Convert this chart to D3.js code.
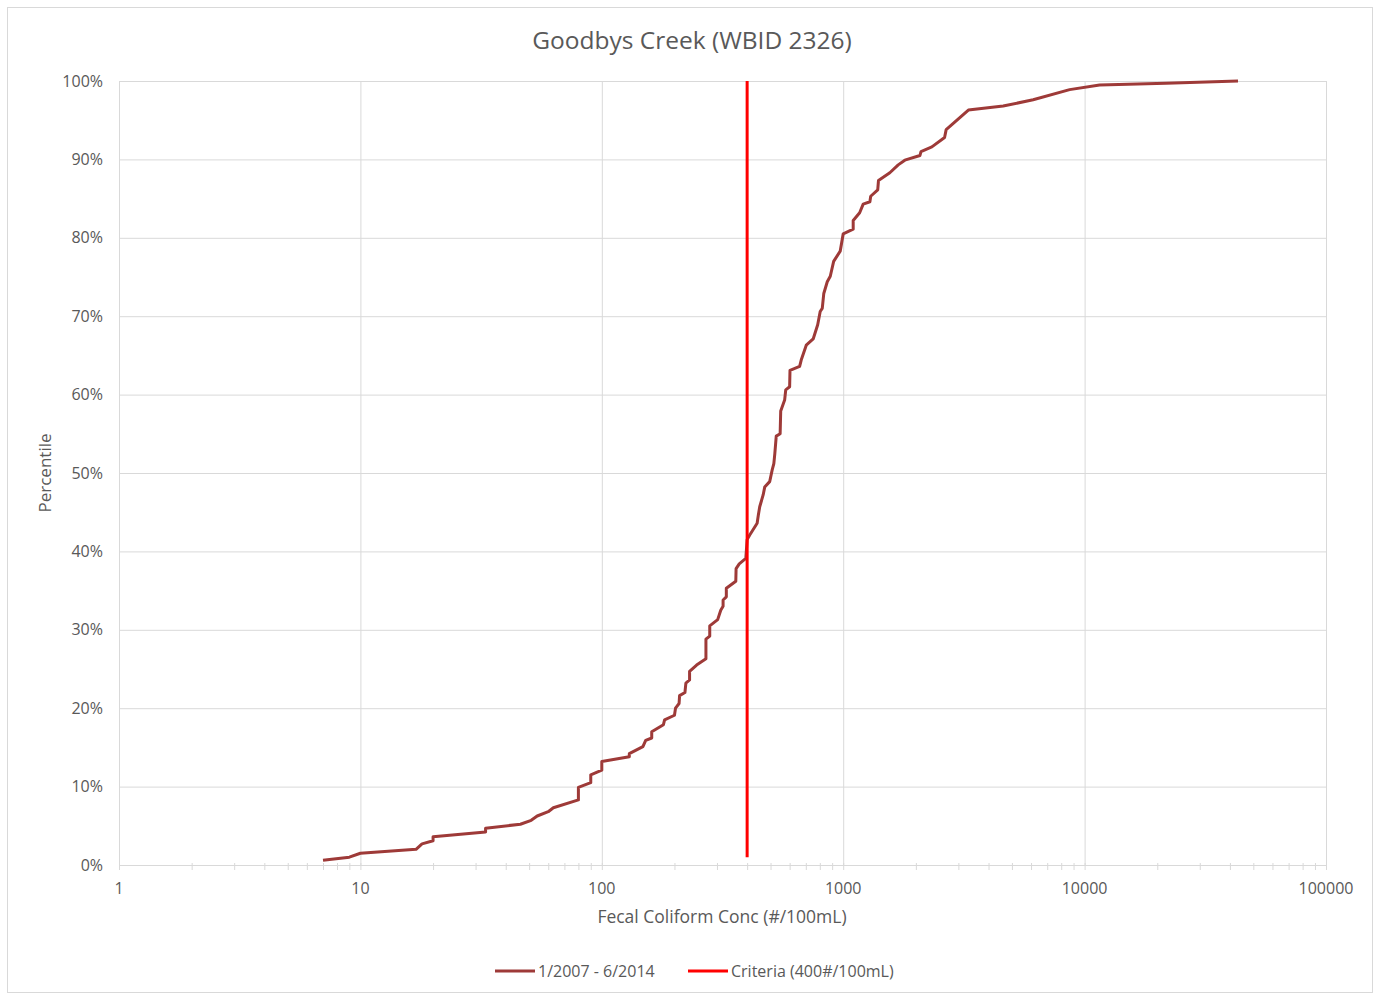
<!DOCTYPE html>
<html lang="en">
<head>
<meta charset="UTF-8">
<title>Goodbys Creek (WBID 2326)</title>
<script src="https://cdn.jsdelivr.net/npm/d3@7"></script>
<style>
    body { margin: 0; background: #fff; }
    svg text { font-family: "Open Sans", sans-serif; fill: #595959; }
    .grid line { stroke: #d9d9d9; stroke-width: 1; }
    .grid path { display: none; }
</style>
</head>
<body>
<svg></svg>
<script>
// concentration (#/100mL) and cumulative percentile
const conc = [7, 9, 10, 17, 18, 20, 20, 33, 33, 46, 51, 54, 60, 63, 80, 80, 90, 90, 100, 100,
    130, 130, 148, 152, 161, 161, 180, 182, 200, 202, 209, 210, 221, 223, 231, 231, 247, 270, 270, 280,
    280, 302, 311, 318, 318, 328, 328, 359, 360, 371, 395, 400, 410, 440, 445, 451, 466, 473, 496, 508,
    516, 521, 528, 548, 551, 572, 578, 600, 602, 660, 670, 703, 751, 784, 803, 819, 831, 859, 884, 913,
    972, 1000, 1100, 1100, 1170, 1210, 1290, 1300, 1390, 1400, 1560, 1690, 1800, 2080, 2100, 2330, 2630, 2670, 3300, 4600,
    6120, 8670, 11540, 21760, 43200];
const pct = [0.6, 1.0, 1.5, 2.0, 2.7, 3.1, 3.6, 4.2, 4.7, 5.2, 5.7, 6.25, 6.8, 7.3, 8.3, 9.9, 10.5, 11.5, 12.1, 13.2,
    13.8, 14.2, 15.1, 15.9, 16.2, 17.0, 17.9, 18.5, 19.1, 20.0, 20.6, 21.6, 22.0, 23.2, 23.6, 24.7, 25.5, 26.3, 28.8, 29.2,
    30.5, 31.3, 32.5, 33.0, 33.8, 34.2, 35.3, 36.2, 37.8, 38.4, 39.1, 41.5, 42.1, 43.6, 44.6, 45.7, 47.2, 48.2, 48.9, 50.4,
    51.2, 52.5, 54.7, 55.0, 57.9, 59.3, 60.6, 61.0, 63.1, 63.6, 64.4, 66.3, 67.1, 68.9, 70.6, 71.0, 72.9, 74.4, 75.1, 77.0,
    78.3, 80.5, 81.1, 82.2, 83.2, 84.3, 84.6, 85.3, 86.1, 87.3, 88.3, 89.3, 89.9, 90.5, 91.0, 91.6, 92.8, 93.8, 96.3, 96.8,
    97.6, 98.9, 99.5, 99.7, 100];
const criteriaConc = [400, 400];
const criteriaPct = [1, 100];
const xTicks = [1, 10, 100, 1000, 10000, 100000];
const yTicks = [0, 10, 20, 30, 40, 50, 60, 70, 80, 90, 100];
const seriesNames = ['1/2007 - 6/2014', 'Criteria (400#/100mL)'];

const W = 1380, H = 997;
const plot = { left: 119, right: 1326, top: 81, bottom: 865 };

const svg = d3.select('svg').attr('width', W).attr('height', H);

svg.append('rect')
    .attr('x', 7.5).attr('y', 7.5)
    .attr('width', W - 15).attr('height', H - 12)
    .attr('fill', '#fff').attr('stroke', '#d9d9d9');

const x = d3.scaleLog().domain([1, 100000]).range([plot.left, plot.right]);
const y = d3.scaleLinear().domain([0, 100]).range([plot.bottom, plot.top]);

// horizontal grid
svg.append('g')
    .attr('class', 'grid')
    .attr('transform', `translate(${plot.left},0)`)
    .call(d3.axisLeft(y).tickValues(yTicks).tickSize(-(plot.right - plot.left)).tickFormat(''));

// vertical grid at decades
svg.append('g')
    .attr('class', 'grid')
    .attr('transform', `translate(0,${plot.bottom})`)
    .call(d3.axisBottom(x).tickValues(xTicks).tickSize(-(plot.bottom - plot.top)).tickFormat(''));

// minor ticks on the x axis
const minor = [];
for (let d = 1; d < 100000; d *= 10) for (let k = 2; k <= 9; k++) minor.push(d * k);
svg.append('g').selectAll('line')
    .data(minor.concat(xTicks))
    .enter().append('line')
    .attr('x1', d => x(d) + 0.5).attr('x2', d => x(d) + 0.5)
    .attr('y1', plot.bottom - 2).attr('y2', plot.bottom + 5)
    .attr('stroke', '#d9d9d9');

svg.append('line')
    .attr('x1', plot.left).attr('x2', plot.right)
    .attr('y1', plot.bottom + 0.5).attr('y2', plot.bottom + 0.5)
    .attr('stroke', '#d9d9d9');

// tick labels
svg.append('g').selectAll('text')
    .data(yTicks)
    .enter().append('text')
    .attr('x', 103).attr('y', d => y(d) + 5.5)
    .attr('text-anchor', 'end')
    .style('font-size', '16px')
    .text(d => d + '%');

svg.append('g').selectAll('text')
    .data(xTicks)
    .enter().append('text')
    .attr('x', d => x(d)).attr('y', 894)
    .attr('text-anchor', 'middle')
    .style('font-size', '16px')
    .text(d => d);

// titles
svg.append('text')
    .attr('x', 692).attr('y', 49)
    .attr('text-anchor', 'middle')
    .style('font-size', '24.5px')
    .text('Goodbys Creek (WBID 2326)');

svg.append('text')
    .attr('x', 722).attr('y', 923)
    .attr('text-anchor', 'middle')
    .style('font-size', '17.5px')
    .text('Fecal Coliform Conc (#/100mL)');

svg.append('text')
    .attr('transform', 'translate(51,473) rotate(-90)')
    .attr('text-anchor', 'middle')
    .style('font-size', '17px')
    .text('Percentile');

// lines
const line = d3.line().x(d => x(d[0])).y(d => y(d[1]));

svg.append('path')
    .datum(d3.zip(conc, pct))
    .attr('d', line)
    .attr('fill', 'none')
    .attr('stroke', '#9e3a38')
    .attr('stroke-width', 3)
    .attr('stroke-linejoin', 'round');

svg.append('path')
    .datum(d3.zip(criteriaConc, criteriaPct))
    .attr('d', line)
    .attr('fill', 'none')
    .attr('stroke', '#ff0000')
    .attr('stroke-width', 3);

// legend
const legend = [
    { name: seriesNames[0], color: '#9e3a38', x: 495 },
    { name: seriesNames[1], color: '#ff0000', x: 688 }
];
const lg = svg.append('g').selectAll('g').data(legend).enter().append('g')
    .attr('transform', d => `translate(${d.x},971)`);
lg.append('line')
    .attr('x1', 0).attr('x2', 40)
    .attr('stroke', d => d.color).attr('stroke-width', 3);
lg.append('text')
    .attr('x', 43).attr('y', 5.5)
    .style('font-size', '16px')
    .text(d => d.name);
</script>
</body>
</html>
